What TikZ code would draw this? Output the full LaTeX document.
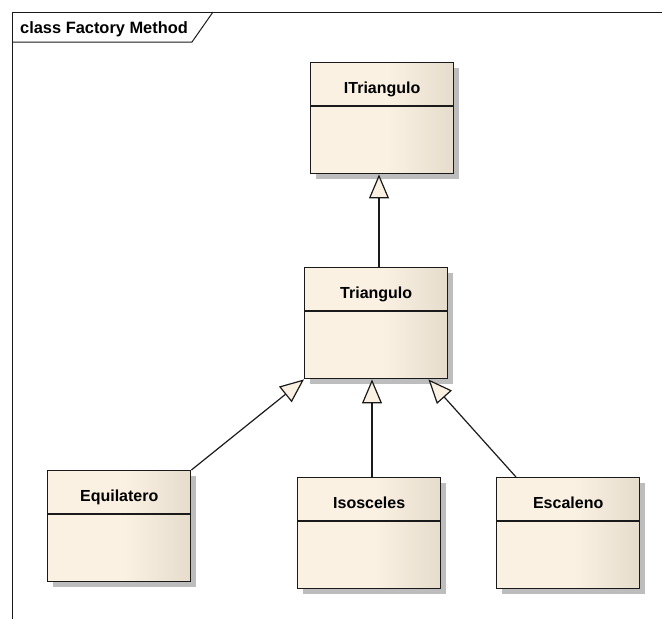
\documentclass[tikz,border=0pt]{standalone}
\usepackage{fontspec}
\setmainfont{Liberation Sans}
\usetikzlibrary{arrows.meta,shadows}

\definecolor{boxlight}{HTML}{FAF1E3}
\definecolor{boxdark}{HTML}{E6DCCC}
\definecolor{shadowgray}{HTML}{BDBDBD}
\definecolor{edgecol}{HTML}{1A1A1A}
\definecolor{tipfill}{HTML}{FBF1E2}

% flat on the left, darkening towards the right edge
\pgfdeclarehorizontalshading{classshade}{100bp}{%
  color(0bp)=(boxlight); color(25bp)=(boxlight); color(52bp)=(boxlight);
  color(75bp)=(boxdark); color(100bp)=(boxdark)}

\tikzset{
  classbox/.style={rectangle, draw=edgecol, line width=1.4pt, shading=classshade,
    minimum width=143pt, minimum height=111pt, anchor=north west, inner sep=0pt,
    drop shadow={shadow xshift=5pt, shadow yshift=-5pt, fill=shadowgray, opacity=1}},
  divider/.style={draw=edgecol, line width=1.2pt},
  classname/.style={font=\fontsize{16}{19}\selectfont\bfseries, anchor=base, inner sep=0pt},
  gen/.style={draw=edgecol, line width=1.2pt,
    -{Triangle[length=24pt, width=20pt, fill=tipfill, line width=1.2pt]}},
  frameline/.style={draw=edgecol, line width=1pt},
}

\newcommand{\classnode}[4]{% name, x, y, label
  \node[classbox] (#1) at (#2,#3) {};
  \draw[divider] ([yshift=-44pt]#1.north west) -- ([yshift=-44pt]#1.north east);
  \node[classname] (#1-name) at ([yshift=-31pt]#1.north) {#4};
}

\begin{document}
\begin{tikzpicture}[x=1pt, y=-1pt]
  \useasboundingbox (0,0) rectangle (662,619);

  % diagram frame with its name tab
  \draw[frameline] (12,619) -- (12,12) -- (662,12);
  \draw[frameline] (12,42) -- (192,42) -- (213,12);
  \node[font=\fontsize{16.4}{19}\selectfont\bfseries, anchor=base west, inner sep=0pt]
    (frametitle) at (20,33) {class Factory Method};

  % classes
  \classnode{itri}{310}{62}{ITriangulo}
  \classnode{tri}{304}{267}{Triangulo}
  \classnode{equi}{47}{470}{Equilatero}
  \classnode{iso}{297}{477}{Isosceles}
  \classnode{esc}{496}{477}{Escaleno}

  % x positions of the vertical generalisations
  \coordinate (upx) at (379,0);
  \coordinate (isox) at (372,0);

  % generalisations
  \draw[gen] (tri.north -| upx) -- (itri.south -| upx);
  \draw[gen] (equi.north east) -- (tri.south west);
  \draw[gen] (iso.north -| isox) -- (tri.south -| isox);
  \draw[gen] ([xshift=20pt]esc.north west) -- ([xshift=-20pt]tri.south east);
\end{tikzpicture}
\end{document}
